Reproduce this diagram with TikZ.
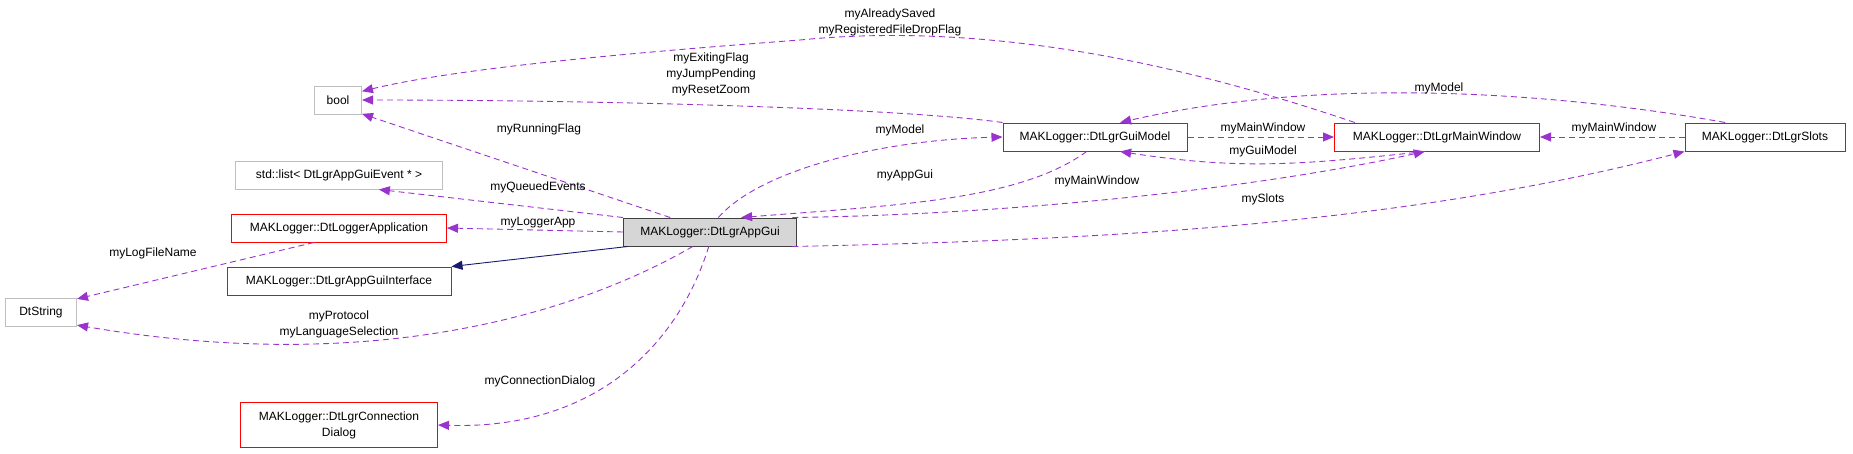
\documentclass[tikz,border=0pt]{standalone}
\usepackage{fontspec}
\setmainfont{Liberation Sans}
\usetikzlibrary{arrows.meta}
\definecolor{edgepurple}{HTML}{9A32CD}
\definecolor{edgenavy}{HTML}{191970}
\definecolor{boxred}{HTML}{FF0000}
\definecolor{boxgray}{HTML}{BFBFBF}
\tikzset{
  cls/.style={draw=boxred, line width=1pt, font=\fontsize{12}{14}\selectfont, inner sep=0pt, minimum height=28pt},
  ext/.style={cls, draw=boxgray},
  use/.style={draw=edgepurple, dashed, dash pattern=on 6pt off 4pt, line width=0.9pt, -{Triangle[length=11pt,width=9pt,fill=edgepurple]}},
  inh/.style={draw=edgenavy, line width=0.9pt, -{Triangle[length=11pt,width=9pt,fill=edgenavy]}},
  lbl/.style={font=\fontsize{12}{14}\selectfont, align=center, inner sep=0pt}
}
\begin{document}
\begin{tikzpicture}[x=1pt,y=-1pt]
\useasboundingbox (0,0) rectangle (1853,453);

%nodes
\node[cls, fill=boxgray!80!black!40, minimum width=173pt, draw=black!75] (appgui) at (710,232) {MAKLogger::DtLgrAppGui};
\node[ext, minimum width=47pt] (bool) at (338,100) {bool};
\node[ext, minimum width=207pt] (stdlist) at (339,175) {std::list< DtLgrAppGuiEvent * >};
\node[cls, minimum width=215pt] (loggerapp) at (339,228) {MAKLogger::DtLoggerApplication};
\node[cls, minimum width=224pt] (guiif) at (339,281) {MAKLogger::DtLgrAppGuiInterface};
\node[ext, minimum width=71pt] (dtstring) at (41,312) {DtString};
\node[cls, minimum width=197pt, minimum height=45pt, align=center] (conndlg) at (339,425) {MAKLogger::DtLgrConnection\\[2pt]Dialog};
\node[cls, minimum width=184pt] (guimodel) at (1095,137) {MAKLogger::DtLgrGuiModel};
\node[cls, minimum width=205pt] (mainwin) at (1437,137) {MAKLogger::DtLgrMainWindow};
\node[cls, minimum width=160pt] (slots) at (1765,137) {MAKLogger::DtLgrSlots};

%connectors
\draw[use] (appgui.160) -- (bool.-30);
\draw[use] (guimodel.north west) .. controls (900,108) and (600,100) .. (bool.east);
\draw[use] (mainwin.170) .. controls (1200,70) and (1000,20) .. (800,40) .. controls (600,55) and (450,70) .. (bool.20);
\draw[use] (appgui.north west) -- (stdlist.-20);
\draw[use] (appgui.west) -- (loggerapp.east);
\draw[inh] (appgui.-170) -- (guiif.north east);
\draw[use] (appgui.-140) .. controls (600,300) and (400,380) .. (dtstring.-20);
\draw[use] (appgui.-95) .. controls (680,340) and (600,430) .. (conndlg.east);
\draw[use] (loggerapp.-150) -- (dtstring.20);
\draw[use] (appgui.60) .. controls (760,170) and (880,140) .. (guimodel.west);
\draw[use] (guimodel.-120) .. controls (1020,200) and (900,205) .. (appgui.25);
\draw[use] (appgui.10) .. controls (1000,215) and (1250,190) .. (mainwin.-130);
\draw[use] (appgui.-10) .. controls (1100,240) and (1400,225) .. (slots.south west);
\draw[use] (guimodel.east) -- (mainwin.west);
\draw[use] (mainwin.-130) .. controls (1300,165) and (1240,170) .. (guimodel.-30);
\draw[use] (slots.west) -- (mainwin.east);
\draw[use] (slots.160) .. controls (1600,100) and (1350,70) .. (guimodel.30);

%labels
\node[lbl] (l1) at (890,22) {myAlreadySaved\\[2pt]myRegisteredFileDropFlag};
\node[lbl] (l2) at (711,74) {myExitingFlag\\[2pt]myJumpPending\\[2pt]myResetZoom};
\node[lbl] (l3) at (539,129) {myRunningFlag};
\node[lbl] (l4) at (900,130) {myModel};
\node[lbl] (l5) at (905,175) {myAppGui};
\node[lbl] (l6) at (538,187) {myQueuedEvents};
\node[lbl] (l7) at (538,223) {myLoggerApp};
\node[lbl] (l8) at (153,253) {myLogFileName};
\node[lbl] (l9) at (339,324) {myProtocol\\[2pt]myLanguageSelection};
\node[lbl] (l10) at (540,381) {myConnectionDialog};
\node[lbl] (l11) at (1439,88) {myModel};
\node[lbl] (l12) at (1263,128) {myMainWindow};
\node[lbl] (l13) at (1263,151) {myGuiModel};
\node[lbl] (l14) at (1097,181) {myMainWindow};
\node[lbl] (l15) at (1263,199) {mySlots};
\node[lbl] (l16) at (1614,128) {myMainWindow};
\end{tikzpicture}
\end{document}
